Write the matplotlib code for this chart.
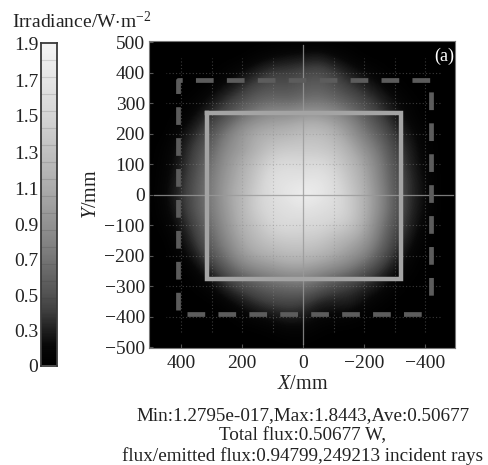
import numpy as np
import matplotlib
matplotlib.use("Agg")
import matplotlib.pyplot as plt
from matplotlib.colors import LinearSegmentedColormap

plt.rcParams['font.family'] = ['Liberation Serif', 'DejaVu Serif']
plt.rcParams['mathtext.fontset'] = 'custom'
plt.rcParams['mathtext.rm'] = 'Liberation Serif'
plt.rcParams['mathtext.it'] = 'Liberation Serif:italic'
plt.rcParams['mathtext.bf'] = 'Liberation Serif:bold'

# irradiance; rows y = 500..-500, columns x = 500..-500 (step 50)
irr_rows = [
 [0]*21,
 [0,0,0,0,0,0,0,.05,.1,.14,.16,.2,.12,.06,0,0,0,0,0,0,0],
 [0,0,0,0,0,.04,.12,.22,.32,.32,.36,.4,.32,.2,.12,.04,0,0,0,0,0],
 [0,0,0,0,.06,.16,.26,.38,.42,.4,.46,.5,.42,.32,.24,.14,.05,0,0,0,0],
 [0,0,0,.06,.18,.3,.42,.52,.58,.55,.6,.64,.58,.48,.36,.26,.14,.04,0,0,0],
 [0,0,.04,.15,.3,.42,.62,.78,.88,.9,.98,.98,.88,.72,.52,.34,.2,.08,0,0,0],
 [0,0,.12,.26,.42,.66,.9,1.05,1.1,1.15,1.22,1.25,1.12,.9,.65,.48,.28,.15,.04,0,0],
 [0,.04,.18,.34,.52,.78,.9,1.1,1.3,1.35,1.35,1.33,1.28,1.08,.82,.6,.36,.2,.06,0,0],
 [0,.06,.2,.38,.6,.85,1.05,1.28,1.48,1.55,1.5,1.55,1.42,1.22,.98,.68,.42,.22,.08,0,0],
 [0,.08,.24,.42,.66,.9,1.1,1.35,1.62,1.65,1.65,1.7,1.55,1.3,1.05,.72,.44,.26,.1,0,0],
 [0,.1,.26,.45,.66,.95,1.15,1.42,1.6,1.7,1.85,1.75,1.6,1.38,1.1,.78,.46,.26,.12,0,0],
 [0,.08,.24,.44,.66,.9,1.15,1.42,1.55,1.6,1.65,1.6,1.55,1.42,1.1,.78,.46,.25,.1,0,0],
 [0,.04,.18,.36,.58,.85,1.1,1.28,1.48,1.55,1.5,1.5,1.42,1.33,1.05,.68,.4,.22,.06,0,0],
 [0,0,.12,.3,.52,.75,1.0,1.18,1.3,1.35,1.35,1.33,1.18,1.05,.9,.6,.34,.16,.02,0,0],
 [0,0,.06,.2,.42,.62,.88,1.02,1.1,1.18,1.18,1.12,1.02,.88,.72,.46,.26,.08,0,0,0],
 [0,0,0,.08,.24,.42,.6,.72,.8,.88,.88,.8,.7,.6,.42,.28,.14,.03,0,0,0],
 [0,0,0,.02,.1,.26,.36,.44,.52,.55,.58,.48,.36,.3,.24,.16,.05,0,0,0,0],
 [0,0,0,0,0,.08,.18,.28,.34,.36,.34,.22,.2,.22,.12,.04,0,0,0,0,0],
 [0,0,0,0,0,0,.05,.1,.15,.2,.18,.1,.08,.06,.02,0,0,0,0,0,0],
 [0,0,0,0,0,0,0,0,.02,.06,.06,.02,0,0,0,0,0,0,0,0,0],
 [0]*21,
]
band_grays = [0, .03, .13, .25, .33, .40, .47, .53, .58, .63, .68, .72, .76, .80, .84, .87, .90, .93, .96]
cbar_labels = ['0', '0.3', '0.5', '0.7', '0.9', '1.1', '1.3', '1.5', '1.7', '1.9']
cbar_tick_pos = [0, .205, .415, .625, .83, 1.045, 1.255, 1.47, 1.68, 1.9]
x_ticks = [400, 200, 0, -200, -400]
y_ticks = [500, 400, 300, 200, 100, 0, -100, -200, -300, -400, -500]
grid_vals = [-400, -300, -200, -100, 100, 200, 300, 400]
solid_rect_x = [316, -321, -321, 316, 316]
solid_rect_y = [267, 267, -275, -275, 267]
dash_path_x = [411, 411, -420, -420]
dash_path_y = [-377, 377, 377, -365]
dash_base_x = [380, -390]
dash_base_y = [-390, -390]
info_lines = ['Min:1.2795e-017,Max:1.8443,Ave:0.50677',
              'Total flux:0.50677 W,',
              'flux/emitted flux:0.94799,249213 incident rays']

W, H = 489, 465
fig = plt.figure(figsize=(W/100, H/100), dpi=100, facecolor='white')
def rect(l, t, r, b):
    return [l/W, 1-b/H, (r-l)/W, (b-t)/H]
def ftext(x, y, s, **kw):
    fig.text(x/W, 1-y/H, s, color='#222222', **kw)

irr = np.array(irr_rows, dtype=float)
cmap = LinearSegmentedColormap.from_list('band', [(g, g, g) for g in band_grays], N=256)

ax = fig.add_axes(rect(149, 41.5, 455, 348))
ax.set_facecolor('black')
ax.imshow(irr, extent=[525, -525, -525, 525], cmap=cmap, vmin=0, vmax=1.9,
          interpolation='bicubic', aspect='auto', zorder=1)
ax.set_xlim(505, -498)
ax.set_ylim(-502, 503)
for v in grid_vals:
    ax.plot([v, v], [-450, 450], color='#8a8a8a', lw=0.8, ls=(0, (1, 2)), alpha=.42, zorder=2)
    ax.plot([-450, 450], [v, v], color='#8a8a8a', lw=0.8, ls=(0, (1, 2)), alpha=.42, zorder=2)
ax.plot([0, 0], [-490, 490], color='#9a9a9a', lw=.9, alpha=.8, zorder=2)
ax.plot([-490, 490], [0, 0], color='#9a9a9a', lw=.9, alpha=.8, zorder=2)
ax.plot(solid_rect_x, solid_rect_y, color='#a4a4a4', lw=3.2, zorder=3, solid_joinstyle='miter')
ax.plot(dash_path_x, dash_path_y, color='#5c5c5c', lw=3.4, ls=(0, (3.75, 2.8)), zorder=3)
ax.plot(dash_base_x, dash_base_y, color='#5c5c5c', lw=3.4, ls=(0, (3.75, 2.8)), zorder=3)
ax.text(-495, 455, '(a)', color='white', fontsize=13, ha='right', va='center', zorder=4)

ax.set_xticks(x_ticks)
ax.set_xticklabels([str(v).replace('-', '\u2212') for v in x_ticks])
ax.set_yticks(y_ticks)
ax.set_yticklabels([str(v).replace('-', '\u2212') for v in y_ticks])
ax.tick_params(direction='in', length=3, width=.8, color='#555555', labelsize=14,
               labelcolor='#222222', pad=3)
ax.tick_params(axis='x', pad=5)
for s in ax.spines.values():
    s.set_color('#777777')
    s.set_linewidth(.8)

ftext(303, 384, r'$\mathit{X}$/mm', fontsize=14.5, ha='center', va='center')
ftext(92, 194, r'$\mathit{Y}$/mm', fontsize=14.5, ha='center', va='center', rotation=90)

cax = fig.add_axes(rect(41, 43, 57, 365.5))
vals = np.linspace(1.9, 0, 323)[:, None]
cax.imshow(vals, extent=[0, 1, 0, 1.9], cmap=cmap, vmin=0, vmax=1.9, aspect='auto')
cax.set_xticks([])
cax.set_yticks(cbar_tick_pos)
cax.set_yticklabels(cbar_labels)
cax.tick_params(length=0, labelsize=14, labelcolor='#222222', pad=2)
for i in range(1, 19):
    g = band_grays[min(i, 18)] * .85
    cax.axhline(i*.1, color=(g, g, g), lw=.8)
for s in cax.spines.values():
    s.set_color('#3a3a3a')
    s.set_linewidth(1.3)

ftext(12, 21, r'Irradiance/W$\cdot$m$^{-2}$', fontsize=14, ha='left', va='center')
ftext(303, 416, info_lines[0], fontsize=13.8, ha='center', va='center')
ftext(303, 436, info_lines[1], fontsize=13.8, ha='center', va='center')
ftext(303, 456, info_lines[2], fontsize=13.8, ha='center', va='center')

fig.savefig('out.png', dpi=100)
